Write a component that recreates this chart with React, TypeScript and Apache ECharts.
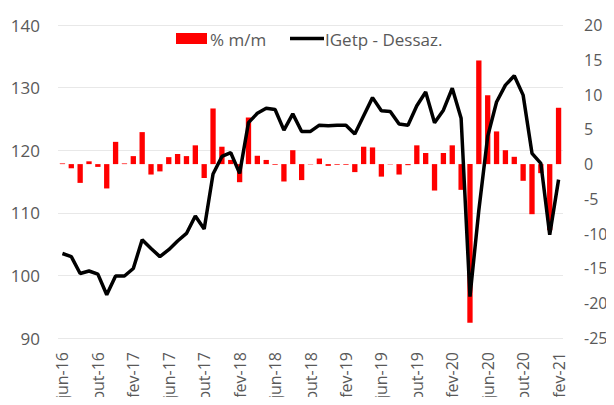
import React, { useEffect, useRef } from "react";
import * as echarts from "echarts";

const monthNames = ["jan", "fev", "mar", "abr", "mai", "jun", "jul", "ago", "set", "out", "nov", "dez"];

// jun-16 .. fev-21 (57 months)
const categories: string[] = [];
for (let y = 2016; y <= 2021; y++) {
  for (let m = 0; m < 12; m++) {
    if (y === 2016 && m < 5) continue;
    if (y === 2021 && m > 1) continue;
    categories.push(`${monthNames[m]}-${String(y).slice(2)}`);
  }
}

const mmValues = [
  0.1, -0.6, -2.7, 0.4, -0.4, -3.5, 3.2, 0.1, 1.15, 4.6,
  -1.5, -1.05, 1.0, 1.45, 1.15, 2.7, -2.0, 8.0, 2.5, 0.6,
  -2.6, 6.7, 1.2, 0.6, -0.1, -2.5, 2.0, -2.3, -0.05, 0.8,
  -0.25, -0.1, -0.1, -1.15, 2.5, 2.4, -1.8, -0.05, -1.5, -0.15,
  2.7, 1.6, -3.8, 1.6, 2.7, -3.7, -22.8, 14.9, 9.9, 4.7,
  2.0, 1.05, -2.4, -7.2, -1.3, -9.5, 8.1,
];

const igetpValues = [
  103.5, 103.0, 100.3, 100.7, 100.2, 96.9, 99.9, 99.9, 101.1, 105.7,
  104.3, 103.0, 104.1, 105.5, 106.7, 109.5, 107.4, 116.2, 119.0, 119.6,
  116.3, 124.4, 125.9, 126.7, 126.5, 123.2, 125.8, 123.0, 123.0, 124.0,
  123.9, 124.0, 124.0, 122.6, 125.5, 128.4, 126.3, 126.2, 124.2, 124.0,
  127.1, 129.3, 124.4, 126.4, 129.9, 125.1, 96.6, 110.4, 122.2, 127.7,
  130.4, 131.9, 128.8, 119.5, 117.9, 106.5, 115.3,
];

const seriesNames = ["% m/m", "IGetp - Dessaz."];
const leftTicks = { min: 90, max: 140, interval: 10 };
const rightTicks = { min: -25, max: 20, interval: 5 };

const FONT = "'Open Sans', 'Noto Sans', sans-serif";
const TEXT = "#595959";

export default function App() {
  const ref = useRef<HTMLDivElement>(null);
  useEffect(() => {
    if (!ref.current) return;
    const chart = echarts.init(ref.current, undefined, { renderer: "svg" });
    chart.setOption({
      animation: false,
      textStyle: { fontFamily: FONT },
      grid: { left: 58, right: 51, top: 25, bottom: 67, containLabel: false, outerBoundsMode: "none" },
      graphic: [
        { type: "rect", shape: { x: 176, y: 33, width: 31, height: 11 }, style: { fill: "#ff0000" } },
        {
          type: "text",
          x: 210,
          y: 39,
          style: { text: seriesNames[0], fill: TEXT, fontSize: 17, fontFamily: FONT, verticalAlign: "middle" },
        },
        {
          type: "line",
          shape: { x1: 290, y1: 38.5, x2: 324, y2: 38.5 },
          style: { stroke: "#000000", lineWidth: 3.5 },
        },
        {
          type: "text",
          x: 325,
          y: 39,
          style: { text: seriesNames[1], fill: TEXT, fontSize: 17, fontFamily: FONT, verticalAlign: "middle" },
        },
      ],
      xAxis: {
        type: "category",
        data: categories,
        boundaryGap: true,
        axisLine: { show: false },
        axisTick: { show: false },
        axisLabel: {
          interval: 3,
          rotate: 90,
          color: TEXT,
          fontSize: 16,
          margin: 14,
          fontFamily: FONT,
        },
      },
      yAxis: [
        {
          type: "value",
          min: leftTicks.min,
          max: leftTicks.max,
          interval: leftTicks.interval,
          position: "left",
          axisLine: { show: false },
          axisTick: { show: false },
          axisLabel: { color: TEXT, fontSize: 17, margin: 18, fontFamily: FONT },
          splitLine: { lineStyle: { color: "#e8e8e8", width: 1 } },
        },
        {
          type: "value",
          min: rightTicks.min,
          max: rightTicks.max,
          interval: rightTicks.interval,
          position: "right",
          axisLine: { show: false },
          axisTick: { show: false },
          axisLabel: { color: TEXT, fontSize: 16, margin: 21, fontFamily: FONT },
          splitLine: { show: false },
        },
      ],
      series: [
        {
          name: seriesNames[0],
          type: "bar",
          yAxisIndex: 1,
          data: mmValues,
          barWidth: "60%",
          itemStyle: { color: "#ff0000" },
          z: 2,
        },
        {
          name: seriesNames[1],
          type: "line",
          yAxisIndex: 0,
          data: igetpValues,
          symbol: "none",
          lineStyle: { color: "#000000", width: 3.5 },
          itemStyle: { color: "#000000" },
          z: 3,
        },
      ],
    });
    return () => chart.dispose();
  }, []);
  return <div ref={ref} style={{ width: 614, height: 405, margin: -8 }} />;
}
